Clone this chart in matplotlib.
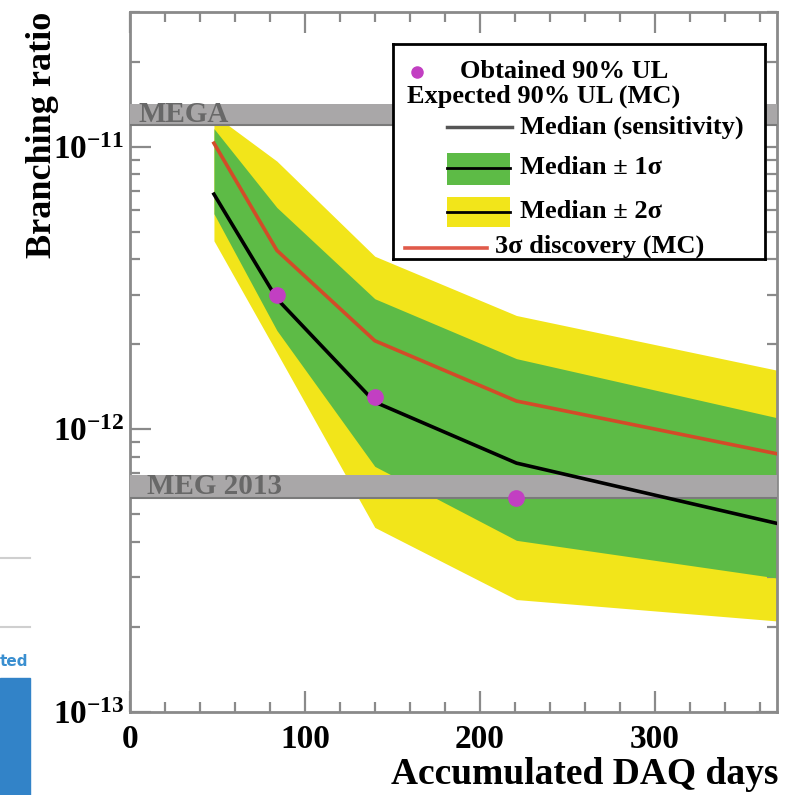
import matplotlib
matplotlib.use("Agg")
import matplotlib.pyplot as plt
from matplotlib.patches import Rectangle
from matplotlib.ticker import MultipleLocator, NullFormatter, FixedLocator

plt.rcParams['font.family'] = ['Liberation Serif', 'DejaVu Serif']
plt.rcParams['font.weight'] = 'bold'
plt.rcParams['mathtext.fontset'] = 'custom'
plt.rcParams['mathtext.rm'] = 'Liberation Serif:bold'
plt.rcParams['mathtext.bf'] = 'Liberation Serif:bold'
plt.rcParams['mathtext.it'] = 'Liberation Serif:bold'

# ---------------- data ----------------
days_obs = [84, 140, 221]
ul_obs = [3.0e-12, 1.3e-12, 5.7e-13]

days_mc = [48, 84, 140, 221, 370]
median = [6.8e-12, 2.9e-12, 1.25e-12, 7.6e-13, 4.65e-13]
sig1_lo = [5.8e-12, 2.24e-12, 7.4e-13, 4.05e-13, 2.98e-13]
sig1_hi = [1.16e-11, 6.1e-12, 2.9e-12, 1.78e-12, 1.1e-12]
sig2_lo = [4.65e-12, 1.87e-12, 4.5e-13, 2.5e-13, 2.1e-13]
sig2_hi = [1.3e-11, 8.9e-12, 4.1e-12, 2.53e-12, 1.62e-12]
disc3 = [1.03e-11, 4.3e-12, 2.06e-12, 1.26e-12, 8.2e-13]

mega_band = (1.19e-11, 1.42e-11)
meg2013_band = (5.7e-13, 6.9e-13)
band_labels = ["MEGA", "MEG 2013"]

xlim = (0, 370)
ylim = (1e-13, 3e-11)
y_major = [1e-13, 1e-12, 1e-11]
y_minor = [m * d for d in (1e-13, 1e-12, 1e-11) for m in range(2, 10) if m * d <= 3e-11]

GREEN = '#5dbb46'
YELLOW = '#f2e51a'
RED = '#d24c28'
MAGENTA = '#c23fc2'
GREYBAND = '#a9a7a8'
FRAME = '#8a8a8a'

W, H = 792, 795
fig = plt.figure(figsize=(W / 100, H / 100), dpi=100)

def fx(x):
    return x / W

def fy(y):
    return 1 - y / H

# background debris from the original slide
fig.patches.append(Rectangle((0, 0), fx(30), fy(678),
                             transform=fig.transFigure, color='#3283c8', zorder=0))
for yy in (558, 627):
    fig.lines.append(plt.Line2D([0, fx(30)], [fy(yy), fy(yy)], transform=fig.transFigure,
                                color='#cfcfcf', lw=1.5))
fig.text(fx(0), fy(661), 'ted', color='#3a8fd0', fontsize=11, fontweight='bold',
         family='DejaVu Sans', ha='left', va='center')

ax = fig.add_axes([fx(130), fy(712), fx(777 - 130), fy(12) - fy(712)])
ax.set_yscale('log')
ax.set_xlim(*xlim)
ax.set_ylim(*ylim)

ax.fill_between(days_mc, sig2_lo, sig2_hi, color=YELLOW, lw=0, zorder=1)
ax.fill_between(days_mc, sig1_lo, sig1_hi, color=GREEN, lw=0, zorder=2)

for (lo, hi), lab in zip([mega_band, meg2013_band], band_labels):
    ax.axhspan(lo, hi, color=GREYBAND, lw=0, zorder=3)
    ax.axhline(lo, color='#7a7a7a', lw=1.5, zorder=3)
    ax.text(5 if lab == "MEGA" else 10, (lo * hi) ** 0.5, lab, color='#686868',
            fontsize=21, fontweight='bold', ha='left', va='center', zorder=4)

ax.plot(days_mc, disc3, color=RED, lw=2.6, zorder=5)
ax.plot(days_mc, median, color='black', lw=2.6, zorder=5)
ax.plot(days_obs, ul_obs, 'o', color=MAGENTA, ms=11, zorder=6)

for sp in ax.spines.values():
    sp.set_color(FRAME)
    sp.set_linewidth(2)

ax.xaxis.set_major_locator(MultipleLocator(100))
ax.xaxis.set_minor_locator(MultipleLocator(20))
ax.yaxis.set_major_locator(FixedLocator(y_major))
ax.yaxis.set_minor_locator(FixedLocator(y_minor))
ax.yaxis.set_minor_formatter(NullFormatter())
ax.tick_params(which='both', direction='in', top=True, right=True, color=FRAME, width=1.6)
ax.tick_params(which='major', length=15)
ax.tick_params(which='minor', length=7.5)
ax.tick_params(axis='x', which='major', labelsize=24, pad=9)
ax.tick_params(axis='y', which='major', labelsize=24, pad=4)
for lab in ax.get_xticklabels() + ax.get_yticklabels():
    lab.set_fontweight('bold')

fig.text(fx(778), fy(775), 'Accumulated DAQ days', fontsize=27, fontweight='bold',
         ha='right', va='center')
fig.text(fx(43), fy(12), 'Branching ratio', fontsize=26, fontweight='bold',
         rotation=90, ha='center', va='top')

# ---------------- legend ----------------
lx0, lx1, ly0, ly1 = 393, 765, 44, 259
lax = fig.add_axes([fx(lx0), fy(ly1), fx(lx1 - lx0), fy(ly0) - fy(ly1)])
lax.set_xlim(lx0, lx1)
lax.set_ylim(ly1, ly0)
lax.set_xticks([])
lax.set_yticks([])
lax.patch.set_facecolor('white')
for sp in lax.spines.values():
    sp.set_color('black')
    sp.set_linewidth(2)

fs = 19
lax.plot([417], [72], 'o', color=MAGENTA, ms=8)
lax.text(460, 72, 'Obtained 90% UL', fontsize=fs, fontweight='bold', ha='left', va='center')
lax.text(407, 96, 'Expected 90% UL (MC)', fontsize=fs, fontweight='bold', ha='left', va='center')
lax.plot([447, 512], [127, 127], color='#555555', lw=2.5)
lax.text(520, 127, 'Median (sensitivity)', fontsize=fs, fontweight='bold', ha='left', va='center')
lax.add_patch(Rectangle((447, 153), 63, 32, color=GREEN, lw=0))
lax.plot([447, 510], [168, 168], color='black', lw=2)
lax.text(520, 168, 'Median ± 1σ', fontsize=fs, fontweight='bold', ha='left', va='center')
lax.add_patch(Rectangle((447, 197), 63, 30, color=YELLOW, lw=0))
lax.plot([447, 510], [212, 212], color='black', lw=2)
lax.text(520, 212, 'Median ± 2σ', fontsize=fs, fontweight='bold', ha='left', va='center')
lax.plot([405, 487], [248, 248], color='#e05a4a', lw=2.6)
lax.text(495, 246, '3σ discovery (MC)', fontsize=fs, fontweight='bold', ha='left', va='center')

fig.savefig('out.png', dpi=100)
